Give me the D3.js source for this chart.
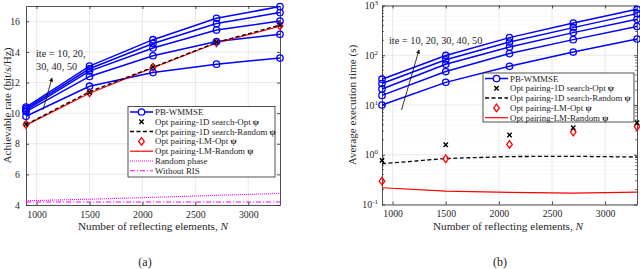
<!DOCTYPE html>
<html>
<head>
<meta charset="utf-8">
<script src="https://cdn.jsdelivr.net/npm/d3@7"></script>
<style>
  body { margin: 0; background: #fff; }
  text { font-family: "Liberation Serif", "DejaVu Serif", serif; fill: #262626; }
</style>
</head>
<body>
<div id="chart"></div>
<script>
// reflecting elements
const N = [900, 1500, 2100, 2700, 3300];
const ite = [10, 20, 30, 40, 50];

// (a) achievable rate, bit/s/Hz
const rateWmmse = [
  [9.8, 11.76, 12.65, 13.2, 13.6],
  [10.1, 12.4, 13.75, 14.68, 15.15],
  [10.2, 12.75, 14.26, 15.43, 16.02],
  [10.3, 12.9, 14.55, 15.85, 16.57],
  [10.4, 13.07, 14.8, 16.2, 16.96]
];
const rate1dOpt = [9.28, 11.35, 13.02, 14.65, 15.78];
const rate1dRand = [9.25, 11.4, 13.0, 14.62, 15.75];
const rateLmOpt = [9.26, 11.33, 13.0, 14.6, 15.7];
const rateLmRand = [9.22, 11.3, 12.97, 14.58, 15.68];
const rateRandPhase = [4.28, 4.38, 4.5, 4.63, 4.76];
const rateNoRis = [4.2, 4.2, 4.2, 4.2, 4.2];

// (b) average execution time, s
const timeWmmse = [
  [10, 28.5, 60, 116, 212],
  [15.6, 47, 108, 206, 380],
  [21, 66, 146, 285, 527],
  [27, 81, 184, 359, 687],
  [33, 99, 226, 445, 839]
];
const time1dOpt = [0.77, 1.59, 2.5, 3.5, 4.4];
const time1dRand = [0.66, 0.84, 0.92, 0.93, 0.9];
const timeLmOpt = [0.295, 0.83, 1.61, 2.85, 3.7];
const timeLmRand = [0.217, 0.185, 0.175, 0.17, 0.177];

const xTicks = [1000, 1500, 2000, 2500, 3000];
const rateTicks = [4, 6, 8, 10, 12, 14, 16];
const timeTicks = [0.1, 1, 10, 100, 1000];

const svg = d3.select('#chart').append('svg')
    .attr('width', 640)
    .attr('height', 269);

const BLUE = '#0000ff', RED = '#ff0000', MAG = '#ff00ff', AX = '#262626', GRID = '#e3e3e3';

function frame(x, y, yTicks, logY) {
    const g = svg.append('g');
    const [x0, x1] = x.range(), [y0, y1] = y.range();
    // minor grid for log axis
    if (logY) {
        const minors = [];
        for (let d = 0.1; d < 1000; d *= 10)
            for (let k = 2; k <= 9; k++) minors.push(d * k);
        g.selectAll('.mg').data(minors).enter().append('line')
            .attr('x1', x0).attr('x2', x1)
            .attr('y1', d => y(d)).attr('y2', d => y(d))
            .attr('stroke', '#eeeeee').attr('stroke-width', 0.6).attr('stroke-dasharray', '1,1');
    }
    g.selectAll('.gx').data(xTicks).enter().append('line')
        .attr('x1', d => x(d)).attr('x2', d => x(d))
        .attr('y1', y0).attr('y2', y1)
        .attr('stroke', GRID).attr('stroke-width', 0.8);
    g.selectAll('.gy').data(yTicks).enter().append('line')
        .attr('x1', x0).attr('x2', x1)
        .attr('y1', d => y(d)).attr('y2', d => y(d))
        .attr('stroke', GRID).attr('stroke-width', 0.8);

    // axes with inward ticks
    const bottom = g.append('g').attr('transform', 'translate(0,' + y0 + ')')
        .call(d3.axisBottom(x).tickValues(xTicks).tickSize(-3).tickPadding(6).tickSizeOuter(0)
            .tickFormat(d3.format('d')));
    const top = g.append('g').attr('transform', 'translate(0,' + y1 + ')')
        .call(d3.axisTop(x).tickValues(xTicks).tickSize(-3).tickFormat('').tickSizeOuter(0));
    const left = g.append('g').attr('transform', 'translate(' + x0 + ',0)')
        .call(d3.axisLeft(y).tickValues(yTicks).tickSize(-3).tickPadding(6).tickSizeOuter(0)
            .tickFormat(logY ? '' : d3.format('d')));
    const right = g.append('g').attr('transform', 'translate(' + x1 + ',0)')
        .call(d3.axisRight(y).tickValues(yTicks).tickSize(-3).tickFormat('').tickSizeOuter(0));
    [bottom, top, left, right].forEach(a => {
        a.select('.domain').attr('stroke', AX).attr('stroke-width', 0.8);
        a.selectAll('line').attr('stroke', AX).attr('stroke-width', 0.8);
        a.selectAll('text').style('font-family', '"Liberation Serif", serif')
            .style('font-size', '9.8px').attr('fill', AX);
    });
    if (logY) {
        const minors = [];
        for (let d = 0.1; d < 1000; d *= 10)
            for (let k = 2; k <= 9; k++) minors.push(d * k);
        [[x0, 2], [x1, -2]].forEach(([px, len]) => {
            g.selectAll(null).data(minors).enter().append('line')
                .attr('x1', px).attr('x2', px + len)
                .attr('y1', d => y(d)).attr('y2', d => y(d))
                .attr('stroke', AX).attr('stroke-width', 0.6);
        });
        // 10^k labels
        timeTicks.forEach(t => {
            const e = Math.round(Math.log10(t));
            const tx = g.append('text')
                .attr('x', x0 - 4).attr('y', y(t) + 3.5)
                .attr('text-anchor', 'end').style('font-size', '9.8px');
            tx.append('tspan').text('10');
            tx.append('tspan').attr('dy', -4).style('font-size', '7px').text(e);
        });
    }
    return g;
}

function line(g, x, y, vals, color, width, dash) {
    g.append('path')
        .datum(vals)
        .attr('fill', 'none')
        .attr('stroke', color)
        .attr('stroke-width', width)
        .attr('stroke-dasharray', dash || null)
        .attr('d', d3.line().x((d, i) => x(N[i])).y(d => y(d)));
}

function circles(g, x, y, vals) {
    g.selectAll(null).data(vals).enter().append('circle')
        .attr('cx', (d, i) => x(N[i])).attr('cy', d => y(d))
        .attr('r', 3.2).attr('fill', 'none')
        .attr('stroke', BLUE).attr('stroke-width', 1.3);
}

function crosses(g, x, y, vals) {
    g.selectAll(null).data(vals).enter().append('path')
        .attr('transform', (d, i) => 'translate(' + x(N[i]) + ',' + y(d) + ')')
        .attr('d', 'M-2.2,-2.2L2.2,2.2M-2.2,2.2L2.2,-2.2')
        .attr('stroke', '#000').attr('stroke-width', 1.4);
}

function diamonds(g, x, y, vals) {
    g.selectAll(null).data(vals).enter().append('path')
        .attr('transform', (d, i) => 'translate(' + x(N[i]) + ',' + y(d) + ')')
        .attr('d', 'M0,-3.8L2.8,0L0,3.8L-2.8,0Z')
        .attr('fill', 'none').attr('stroke', RED).attr('stroke-width', 1.3);
}

function legend(g, bx, by, bw, bh, rows) {
    g.append('rect').attr('x', bx).attr('y', by).attr('width', bw).attr('height', bh)
        .attr('fill', '#fff').attr('stroke', AX).attr('stroke-width', 0.8);
    rows.forEach((r, i) => {
        const cy = by + 5.5 + i * 9.8;
        const lx0 = bx + 2, lx1 = bx + 25, mx = (lx0 + lx1) / 2;
        if (r.line) g.append('line').attr('x1', lx0).attr('x2', lx1).attr('y1', cy).attr('y2', cy)
            .attr('stroke', r.color).attr('stroke-width', r.width || 1.5)
            .attr('stroke-dasharray', r.dash || null);
        if (r.mark === 'o') g.append('circle').attr('cx', mx).attr('cy', cy).attr('r', 3.2)
            .attr('fill', '#fff').attr('stroke', BLUE).attr('stroke-width', 1.3);
        if (r.mark === 'x') g.append('path').attr('transform', 'translate(' + mx + ',' + cy + ')')
            .attr('d', 'M-2.2,-2.2L2.2,2.2M-2.2,2.2L2.2,-2.2').attr('stroke', '#000').attr('stroke-width', 1.4);
        if (r.mark === 'd') g.append('path').attr('transform', 'translate(' + mx + ',' + cy + ')')
            .attr('d', 'M0,-3.8L2.8,0L0,3.8L-2.8,0Z').attr('fill', 'none')
            .attr('stroke', RED).attr('stroke-width', 1.3);
        const t = g.append('text').attr('x', bx + 27).attr('y', cy + 3).style('font-size', '8.9px');
        t.append('tspan').text(r.label);
        if (r.psi) t.append('tspan').style('font-weight', 'bold').text(' ψ');
    });
}

const legendRows = [
    { label: 'PB-WMMSE', line: true, color: BLUE, mark: 'o' },
    { label: 'Opt pairing-1D search-Opt', psi: true, mark: 'x' },
    { label: 'Opt pairing-1D search-Random', psi: true, line: true, color: '#000', dash: '4,2.5' },
    { label: 'Opt pairing-LM-Opt', psi: true, mark: 'd' },
    { label: 'Opt pairing-LM-Random', psi: true, line: true, color: RED, width: 1.2 }
];

// ---------- (a) ----------
const xa = d3.scaleLinear().domain([900, 3300]).range([26, 280]);
const ya = d3.scaleLinear().domain([4, 17]).range([205, 6]);
const ga = frame(xa, ya, rateTicks, false);

line(ga, xa, ya, rateRandPhase, MAG, 1.1, '1,1');
line(ga, xa, ya, rateNoRis, MAG, 1.1, '5,2,1,2');
rateWmmse.forEach(v => line(ga, xa, ya, v, BLUE, 1.5));
line(ga, xa, ya, rateLmRand, RED, 1.2);
line(ga, xa, ya, rate1dRand, '#000', 1.3, '4,2.5');
diamonds(ga, xa, ya, rateLmOpt);
crosses(ga, xa, ya, rate1dOpt);
rateWmmse.forEach(v => circles(ga, xa, ya, v));

legend(ga, 128, 106.5, 147, 70.5, legendRows.concat([
    { label: 'Random phase', line: true, color: MAG, width: 1.1, dash: '1,1' },
    { label: 'Without RIS', line: true, color: MAG, width: 1.1, dash: '5,2,1,2' }
]));

ga.append('text').attr('x', 36).attr('y', 56.5).style('font-size', '10.3px').text('ite = 10, 20,');
ga.append('text').attr('x', 36).attr('y', 70).style('font-size', '10.3px').text('30, 40, 50');

// ---------- (b) ----------
const xb = d3.scaleLinear().domain([900, 3300]).range([382, 637]);
const yb = d3.scaleLog().domain([0.1, 1000]).range([204.5, 5.5]);
const gb = frame(xb, yb, timeTicks, true);

timeWmmse.forEach(v => line(gb, xb, yb, v, BLUE, 1.5));
line(gb, xb, yb, timeLmRand, RED, 1.2);
line(gb, xb, yb, time1dRand, '#000', 1.3, '4,2.5');
diamonds(gb, xb, yb, timeLmOpt);
crosses(gb, xb, yb, time1dOpt);
timeWmmse.forEach(v => circles(gb, xb, yb, v));

legend(gb, 483, 73, 151, 49, legendRows);

gb.append('text').attr('x', 389).attr('y', 43.5).style('font-size', '10.3px').text('ite = 10, 20, 30, 40, 50');

// arrows
const defs = svg.append('defs');
defs.append('marker').attr('id', 'arr').attr('viewBox', '0 0 10 10')
    .attr('refX', 9).attr('refY', 5).attr('markerWidth', 5).attr('markerHeight', 5)
    .attr('orient', 'auto')
    .append('path').attr('d', 'M0,0L10,5L0,10Z').attr('fill', '#000');
ga.append('line').attr('x1', 43).attr('y1', 110).attr('x2', 52).attr('y2', 78)
    .attr('stroke', '#000').attr('stroke-width', 0.8).attr('marker-end', 'url(#arr)');
gb.append('line').attr('x1', 401.5).attr('y1', 110).attr('x2', 419).attr('y2', 50)
    .attr('stroke', '#000').attr('stroke-width', 0.8).attr('marker-end', 'url(#arr)');

// axis titles and captions
function xTitle(cx) {
    const t = svg.append('text').attr('x', cx).attr('y', 229.5)
        .attr('text-anchor', 'middle').style('font-size', '11.2px');
    t.append('tspan').text('Number of reflecting elements, ');
    t.append('tspan').style('font-style', 'italic').text('N');
}
xTitle(153);
xTitle(508);
svg.append('text').attr('transform', 'translate(10.5,105.5) rotate(-90)')
    .attr('text-anchor', 'middle').style('font-size', '11.2px').text('Achievable rate (bit/s/Hz)');
svg.append('text').attr('transform', 'translate(356,105) rotate(-90)')
    .attr('text-anchor', 'middle').style('font-size', '11.2px').text('Average execution time (s)');
svg.append('text').attr('x', 145).attr('y', 265.5).attr('text-anchor', 'middle')
    .style('font-size', '12px').text('(a)');
svg.append('text').attr('x', 500).attr('y', 265.5).attr('text-anchor', 'middle')
    .style('font-size', '12px').text('(b)');
</script>
</body>
</html>
